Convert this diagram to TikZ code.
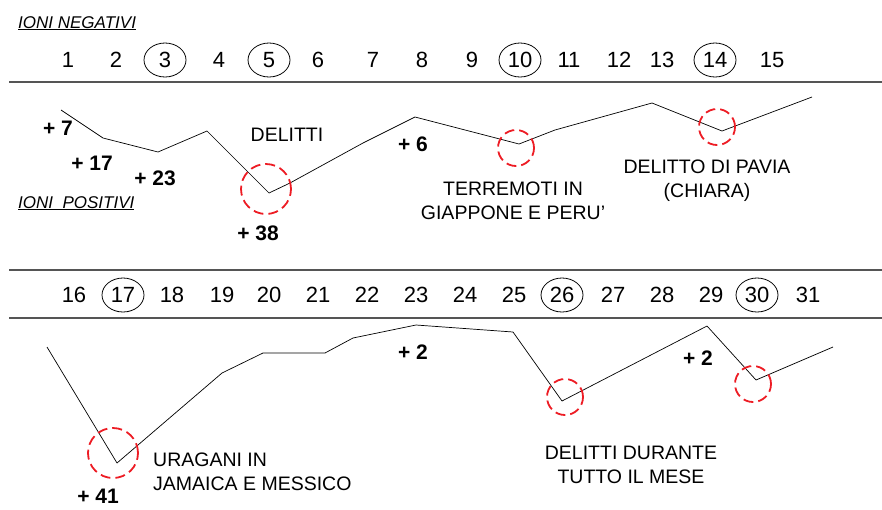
\documentclass[tikz,border=0pt]{standalone}
\usepackage{fontspec}
\setmainfont{Liberation Sans}
\usetikzlibrary{shapes.geometric}
\definecolor{ionired}{RGB}{237,28,36}
\definecolor{ionigray}{RGB}{85,85,85}

\begin{document}
\begin{tikzpicture}[x=1pt, y=-1pt]
    \tikzstyle{day} = [font=\fontsize{22}{26}\selectfont, inner sep=0pt]
    \tikzstyle{marked} = [day, draw, ellipse, minimum width=42pt, minimum height=34pt, line width=0.8pt]
    \tikzstyle{peak} = [circle, draw=ionired, dash pattern=on 10pt off 5pt, line width=1.8pt, inner sep=0pt]
    \tikzstyle{gain} = [font=\fontsize{21}{25}\selectfont\bfseries, inner sep=0pt]
    \tikzstyle{event} = [font=\fontsize{19.5}{24}\selectfont, align=center, inner sep=0pt]
    \tikzstyle{heading} = [font=\fontsize{17}{20}\selectfont\itshape, inner sep=0pt, anchor=base west]
    \tikzstyle{rule} = [line width=1.3pt, ionigray]
    \tikzstyle{trend} = [line width=0.7pt, black, line join=round]

    \useasboundingbox (0,0) rectangle (882,509);

    % Headings
    \node[heading] (neg) at (18,28) {\underline{IONI NEGATIVI}};
    \node[heading] (pos) at (18,208) {\underline{IONI\ \ POSITIVI}};

    % Days, first half
    \foreach \n/\x/\s in {1/68/day, 2/116/day, 3/165/marked, 4/219/day, 5/269/marked,
                          6/318/day, 7/373/day, 8/422/day, 9/472/day, 10/520/marked,
                          11/569/day, 12/619/day, 13/662/day, 14/715/marked, 15/772/day}
        \node[\s] (d\n) at (\x,60) {\n};
    \draw[rule] (9,82) -- (882,82);

    % Days, second half
    \draw[rule] (9,270) -- (882,270);
    \foreach \n/\x/\s in {16/74/day, 17/123/marked, 18/172/day, 19/222/day, 20/269/day,
                          21/318/day, 22/367/day, 23/416/day, 24/465/day, 25/514/day,
                          26/562/marked, 27/613/day, 28/662/day, 29/711/day, 30/757/marked,
                          31/808/day}
        \node[\s] (d\n) at (\x,295) {\n};
    \draw[rule] (9,318) -- (882,318);

    % Trends
    \draw[trend] (61,110) -- (103,138) -- (158,152) -- (207,131) -- (269,193) -- (290,183)
        -- (363,143) -- (415,117) -- (519,144) -- (555,130) -- (652,103) -- (722,131) -- (812,97);
    \draw[trend] (47,347) -- (117,463) -- (222,373) -- (263,353) -- (325,353) -- (353,338)
        -- (416,325) -- (513,332) -- (562,401) -- (707,326) -- (756,380) -- (833,347);

    % Peaks
    \node[peak, minimum size=50pt] (p5) at (266,189) {};
    \node[peak, minimum size=36pt] (p10) at (516,148) {};
    \node[peak, minimum size=36pt] (p14) at (717,127) {};
    \node[peak, minimum size=50pt] (p17) at (113,453) {};
    \node[peak, minimum size=36pt] (p26) at (565,397) {};
    \node[peak, minimum size=36pt] (p30) at (753,384) {};

    % Gains
    \node[gain] (g1) at (58,128) {+ 7};
    \node[gain] (g2) at (92,163) {+ 17};
    \node[gain] (g3) at (155,178) {+ 23};
    \node[gain] (g5) at (258,233) {+ 38};
    \node[gain] (g8) at (413,144) {+ 6};
    \node[gain] (g17) at (98,496) {+ 41};
    \node[gain] (g23) at (413,352) {+ 2};
    \node[gain] (g28) at (698,358) {+ 2};

    % Events
    \node[event] (e5) at (287,135) {DELITTI};
    \node[event] (e10) at (513,201) {TERREMOTI IN\\GIAPPONE E PERU'};
    \node[event] (e14) at (707,181) {DELITTO DI PAVIA\\(CHIARA)};
    \node[event, align=left, anchor=west] (e17) at (153,472) {URAGANI IN\\JAMAICA E MESSICO};
    \node[event] (e26) at (631,465) {DELITTI DURANTE\\TUTTO IL MESE};
\end{tikzpicture}
\end{document}
